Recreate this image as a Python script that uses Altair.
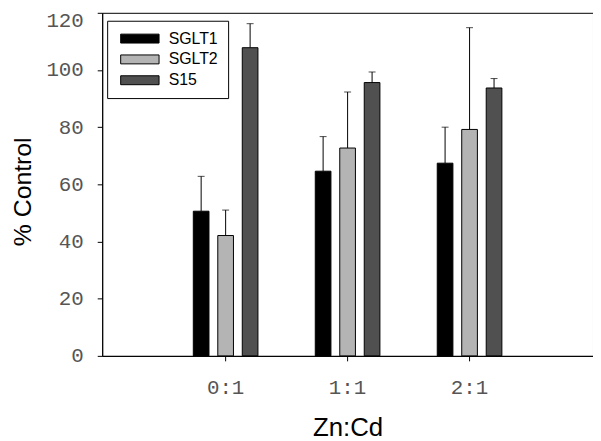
import altair as alt
import pandas as pd

groups = ["0:1", "1:1", "2:1"]
series = ["SGLT1", "SGLT2", "S15"]
means = {
    "SGLT1": [50.6, 64.6, 67.4],
    "SGLT2": [42.1, 72.7, 79.2],
    "S15": [107.8, 95.6, 93.7],
}
errors = {
    "SGLT1": [12.2, 12.1, 12.6],
    "SGLT2": [8.9, 19.6, 35.6],
    "S15": [8.4, 3.7, 3.3],
}
colors = ["#000000", "#b4b4b4", "#505050"]
y_ticks = [0, 20, 40, 60, 80, 100, 120]

rows = []
for s in series:
    for g, m, e in zip(groups, means[s], errors[s]):
        rows.append({"group": g, "series": s, "mean": m, "upper": m + e})
df = pd.DataFrame(rows)

x_enc = alt.X(
    "group:N",
    sort=groups,
    scale=alt.Scale(paddingInner=0.47, paddingOuter=0.747),
    axis=alt.Axis(
        title="Zn:Cd",
        labelAngle=0,
        labelFont="Liberation Mono",
        labelFontSize=21,
        labelColor="#555555",
        labelBaseline="alphabetic",
        labelPadding=33,
        tickSize=5,
        tickColor="black",
        domainColor="black",
        titleFont="Liberation Sans",
        titleFontSize=26,
        titleFontWeight="normal",
        titleColor="black",
        titleBaseline="alphabetic",
        titleY=80,
    ),
)
xoff = alt.XOffset(
    "series:N", sort=series, scale=alt.Scale(paddingInner=0.36, paddingOuter=0)
)
y_scale = alt.Scale(domain=[0, 120], nice=False)
y_axis = alt.Axis(
    title="% Control",
    values=y_ticks,
    labelFont="Liberation Mono",
    labelFontSize=21,
    labelColor="#555555",
    labelPadding=14,
    labelOffset={"condition": {"test": "datum.value == 120", "value": 8}, "value": 0},
    tickSize=5,
    tickColor="black",
    domainColor="black",
    grid=False,
    titleFont="Liberation Sans",
    titleFontSize=25,
    titleFontWeight="normal",
    titleColor="black",
    titleBaseline="alphabetic",
    titleX=-72,
    titleY=180,
)

base = alt.Chart(df)

bars = base.mark_bar(stroke="black", strokeWidth=1).encode(
    x=x_enc,
    xOffset=xoff,
    y=alt.Y("mean:Q", scale=y_scale, axis=y_axis),
    color=alt.Color(
        "series:N",
        sort=series,
        scale=alt.Scale(domain=series, range=colors),
        legend=alt.Legend(
            title=None,
            orient="none",
            legendX=5,
            legendY=8,
            symbolType="M-4.3,-1H4.3V1H-4.3Z",
            symbolSize=81,
            symbolStrokeColor="black",
            symbolStrokeWidth=1,
            symbolOpacity=1,
            symbolOffset=15,
            labelFont="Liberation Sans",
            labelFontSize=16,
            labelColor="black",
            labelOffset=21,
            rowPadding=5,
            padding=10,
            strokeColor="black",
            fillColor="white",
        ),
    ),
)

rules = base.mark_rule(color="black", strokeWidth=1).encode(
    x=x_enc, xOffset=xoff, y=alt.Y("mean:Q", scale=y_scale), y2="upper:Q"
)
caps = base.mark_tick(color="black", size=7, thickness=1).encode(
    x=x_enc, xOffset=xoff, y=alt.Y("upper:Q", scale=y_scale)
)

chart = (
    alt.layer(rules, bars, caps)
    .properties(
        width=495,
        height=346,
        autosize=alt.AutoSizeParams(type="none"),
        padding={"left": 95, "top": 3, "right": 0, "bottom": 84},
    )
    .configure_view(stroke="black", strokeWidth=1)
    .configure_axis(grid=False)
)

chart.save("out.html", embed_options={"renderer": "svg", "actions": False})
